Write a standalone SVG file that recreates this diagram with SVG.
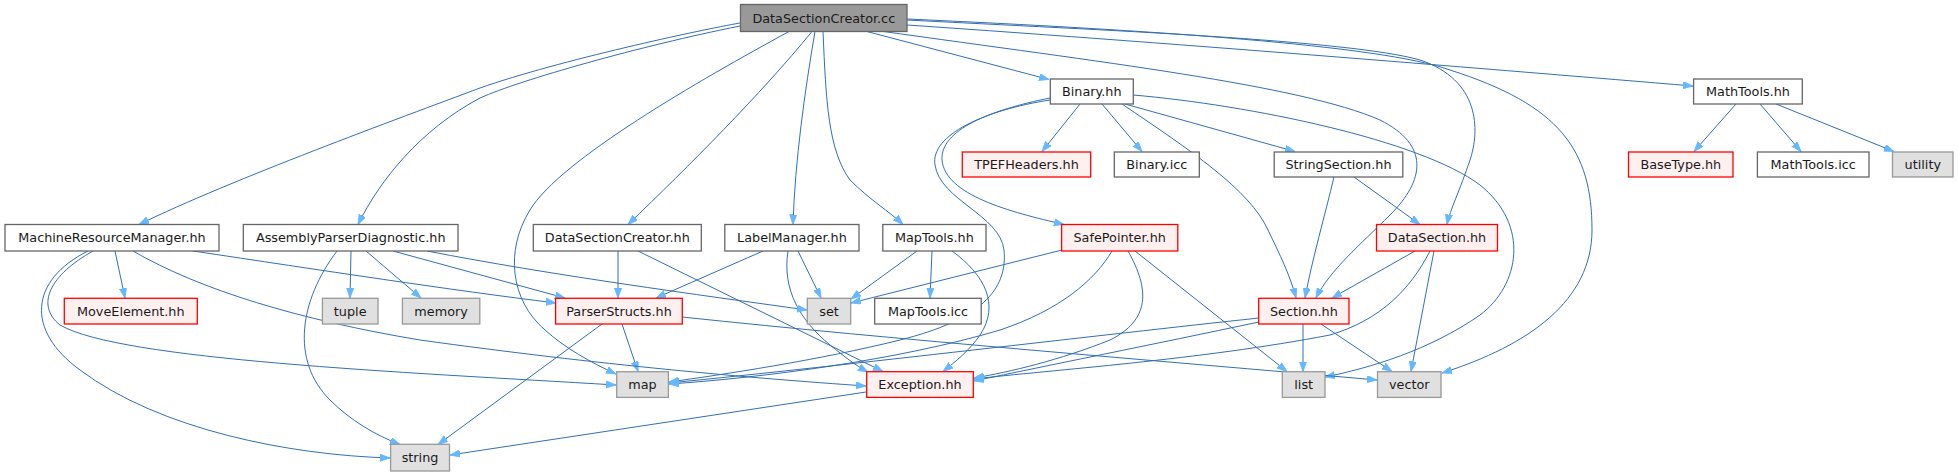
<svg xmlns="http://www.w3.org/2000/svg" width="1958" height="476" viewBox="0 0 1958 476">
<style>
.n rect{stroke-width:1.3}
.w rect{fill:#ffffff;stroke:#666666}
.r rect{fill:#fff0f0;stroke:#ff0000}
.g rect{fill:#e0e0e0;stroke:#999999}
.root rect{fill:#999999;stroke:#666666}
.n text{font-family:"DejaVu Sans","Liberation Sans",sans-serif;font-size:12.8px;fill:#1a1a1a;text-anchor:middle}
#edges path{fill:none;stroke:#336fb2;stroke-width:1;marker-end:url(#ah)}
</style>
<defs>
<marker id="ah" markerUnits="userSpaceOnUse" markerWidth="11" markerHeight="8" refX="10" refY="3.6" orient="auto">
<path d="M0,0 L10,3.6 L0,7.2 z" fill="#63b8ff" stroke="#63b8ff" stroke-width="0.8"/>
</marker>
</defs>
<rect width="1958" height="476" fill="#ffffff"/>
<g id="edges">
<path d="M740,23 C700,30 560,60 480,88 C400,118 230,180 139,224.5"/>
<path d="M740,26 C640,46 520,80 480,98 C420,130 380,180 358,224.5"/>
<path d="M812,31.5 C760,95 690,165 628,224.5"/>
<path d="M789,31.5 C700,80 560,160 530,210 C505,250 510,300 545,330 C565,348 590,362 616,374"/>
<path d="M815,31.5 C805,90 795,160 793,224.5"/>
<path d="M823,31.5 C826,100 828,150 850,180 C870,200 890,212 903,224.5"/>
<path d="M867,31.5 L1049,79.5"/>
<path d="M907,20 C1100,30 1350,40 1420,60 C1480,80 1480,130 1470,160 C1460,190 1450,210 1447,224.5"/>
<path d="M907,19 C1150,30 1380,45 1450,70 C1560,105 1592,150 1592,230 C1592,300 1530,345 1442,373"/>
<path d="M907,25 C1200,45 1500,70 1693,86"/>
<path d="M880,31 C1100,62 1300,85 1380,120 C1430,145 1425,180 1390,215 C1360,245 1330,270 1316,298"/>
<path d="M1080,104 L1042,151.5"/>
<path d="M1102,104 L1142,151.5"/>
<path d="M1125,104 L1295,151.5"/>
<path d="M1050,98 C990,110 940,130 942,160 C945,195 1010,212 1064,224.5"/>
<path d="M1050,100 C985,110 930,135 935,165 C940,200 1000,215 1004,250 C1008,290 980,320 900,340 C820,360 720,375 669,382"/>
<path d="M1122,104 C1190,150 1250,190 1268,230 C1280,255 1290,275 1296,298"/>
<path d="M1133,95 C1250,105 1420,140 1480,185 C1530,225 1520,285 1480,315 C1430,350 1370,368 1325,377"/>
<path d="M1334,177 C1325,215 1312,260 1305,298"/>
<path d="M1354,177 L1420,224.5"/>
<path d="M1415,251 L1332,298"/>
<path d="M1430,251 C1410,290 1380,320 1330,335 C1200,360 1050,370 974,379"/>
<path d="M1434,251 L1411,371.5"/>
<path d="M1303,324 L1303,371.5"/>
<path d="M1321,324 L1392,371.5"/>
<path d="M1259,318 C1100,335 850,365 669,383"/>
<path d="M1259,322 C1150,345 1050,365 974,381"/>
<path d="M1062,250 L851,303"/>
<path d="M1112,251 C1095,280 1060,310 1000,330 C900,360 760,378 669,384"/>
<path d="M1128,251 C1150,290 1150,320 1110,340 C1060,360 1010,372 974,378"/>
<path d="M1135,251 L1287,371.5"/>
<path d="M917,251 L851,299"/>
<path d="M932,251 L930,298"/>
<path d="M952,251 C985,275 1000,305 980,335 C970,350 955,362 943,371.5"/>
<path d="M763,251 L656,298"/>
<path d="M798,251 L821,298"/>
<path d="M788,251 C782,290 800,320 830,345 C845,357 855,365 868,372"/>
<path d="M618,251 L618,298"/>
<path d="M638,251 L883,371.5"/>
<path d="M622,324 L638,371.5"/>
<path d="M602,324 L438,444.5"/>
<path d="M682,317 C900,340 1150,360 1377,380"/>
<path d="M115,251 L125,298"/>
<path d="M193,251 C320,270 450,290 556,303"/>
<path d="M133,251 C200,290 300,320 420,340 C600,365 750,378 866,386"/>
<path d="M93,251 C50,275 35,305 60,325 C120,360 400,372 616,385"/>
<path d="M88,251 C30,280 25,330 80,370 C160,430 290,455 390,458"/>
<path d="M337,251 C300,300 290,360 330,400 C350,420 375,435 400,444.5"/>
<path d="M351,251 L350,298"/>
<path d="M366,251 L421,298"/>
<path d="M393,251 L565,298"/>
<path d="M427,251 C550,275 700,295 807,310"/>
<path d="M866,392 L450,455"/>
<path d="M1736,104 L1694,151.5"/>
<path d="M1760,104 L1801,151.5"/>
<path d="M1776,104 L1894,151.5"/>
</g>
<g id="n_dsccc" class="n root"><rect x="740.5" y="4.5" width="166.5" height="27"/><text x="823.8" y="22.5">DataSectionCreator.cc</text></g>
<g id="n_binaryhh" class="n w"><rect x="1050.3" y="79" width="83" height="25"/><text x="1091.8" y="96">Binary.hh</text></g>
<g id="n_mathtoolshh" class="n w"><rect x="1693.6" y="79" width="108.7" height="25"/><text x="1748" y="96">MathTools.hh</text></g>
<g id="n_tpef" class="n r"><rect x="962.3" y="152" width="128.4" height="25"/><text x="1026.5" y="169">TPEFHeaders.hh</text></g>
<g id="n_binaryicc" class="n w"><rect x="1114.3" y="152" width="85" height="25"/><text x="1156.8" y="169">Binary.icc</text></g>
<g id="n_stringsection" class="n w"><rect x="1274.2" y="152" width="128.6" height="25"/><text x="1338.5" y="169">StringSection.hh</text></g>
<g id="n_basetype" class="n r"><rect x="1628.5" y="152" width="104.5" height="25"/><text x="1680.8" y="169">BaseType.hh</text></g>
<g id="n_mathtoolsicc" class="n w"><rect x="1757.4" y="152" width="111.6" height="25"/><text x="1813.2" y="169">MathTools.icc</text></g>
<g id="n_utility" class="n g"><rect x="1892.5" y="152" width="60.5" height="25"/><text x="1922.8" y="169">utility</text></g>
<g id="n_mrm" class="n w"><rect x="5" y="224.5" width="214" height="26.5"/><text x="112" y="242">MachineResourceManager.hh</text></g>
<g id="n_apd" class="n w"><rect x="243.3" y="224.5" width="214.7" height="26.5"/><text x="350.7" y="242">AssemblyParserDiagnostic.hh</text></g>
<g id="n_dschh" class="n w"><rect x="533.3" y="224.5" width="168" height="26.5"/><text x="617.3" y="242">DataSectionCreator.hh</text></g>
<g id="n_labelmanager" class="n w"><rect x="724.8" y="224.5" width="134.2" height="26.5"/><text x="791.9" y="242">LabelManager.hh</text></g>
<g id="n_maptoolshh" class="n w"><rect x="882.8" y="224.5" width="103.2" height="26.5"/><text x="934.4" y="242">MapTools.hh</text></g>
<g id="n_safepointer" class="n r"><rect x="1061.6" y="224.5" width="116.2" height="26.5"/><text x="1119.7" y="242">SafePointer.hh</text></g>
<g id="n_datasection" class="n r"><rect x="1376.5" y="224.5" width="121" height="26.5"/><text x="1437" y="242">DataSection.hh</text></g>
<g id="n_moveelement" class="n r"><rect x="64.3" y="298.3" width="133" height="25.7"/><text x="130.8" y="315.5">MoveElement.hh</text></g>
<g id="n_tuple" class="n g"><rect x="322.4" y="298.3" width="55.6" height="25.7"/><text x="350.2" y="315.5">tuple</text></g>
<g id="n_memory" class="n g"><rect x="402.4" y="298.3" width="77.4" height="25.7"/><text x="441.1" y="315.5">memory</text></g>
<g id="n_parserstructs" class="n r"><rect x="555.6" y="298.3" width="126.7" height="25.7"/><text x="619" y="315.5">ParserStructs.hh</text></g>
<g id="n_set" class="n g"><rect x="807.3" y="298.3" width="43.4" height="25.7"/><text x="829" y="315.5">set</text></g>
<g id="n_maptoolsicc" class="n w"><rect x="874.7" y="298.3" width="106.5" height="25.7"/><text x="928" y="315.5">MapTools.icc</text></g>
<g id="n_section" class="n r"><rect x="1258.7" y="298.3" width="90.3" height="25.7"/><text x="1303.9" y="315.5">Section.hh</text></g>
<g id="n_map" class="n g"><rect x="616.7" y="371.7" width="51.7" height="25.7"/><text x="642.5" y="389">map</text></g>
<g id="n_exception" class="n r"><rect x="866.7" y="371.7" width="106.6" height="25.7"/><text x="920" y="389">Exception.hh</text></g>
<g id="n_list" class="n g"><rect x="1282.3" y="371.7" width="42.7" height="25.7"/><text x="1303.7" y="389">list</text></g>
<g id="n_vector" class="n g"><rect x="1377.5" y="371.7" width="63.5" height="25.7"/><text x="1409.3" y="389">vector</text></g>
<g id="n_string" class="n g"><rect x="390.6" y="444.3" width="58.9" height="26.7"/><text x="420" y="462">string</text></g>
</svg>
